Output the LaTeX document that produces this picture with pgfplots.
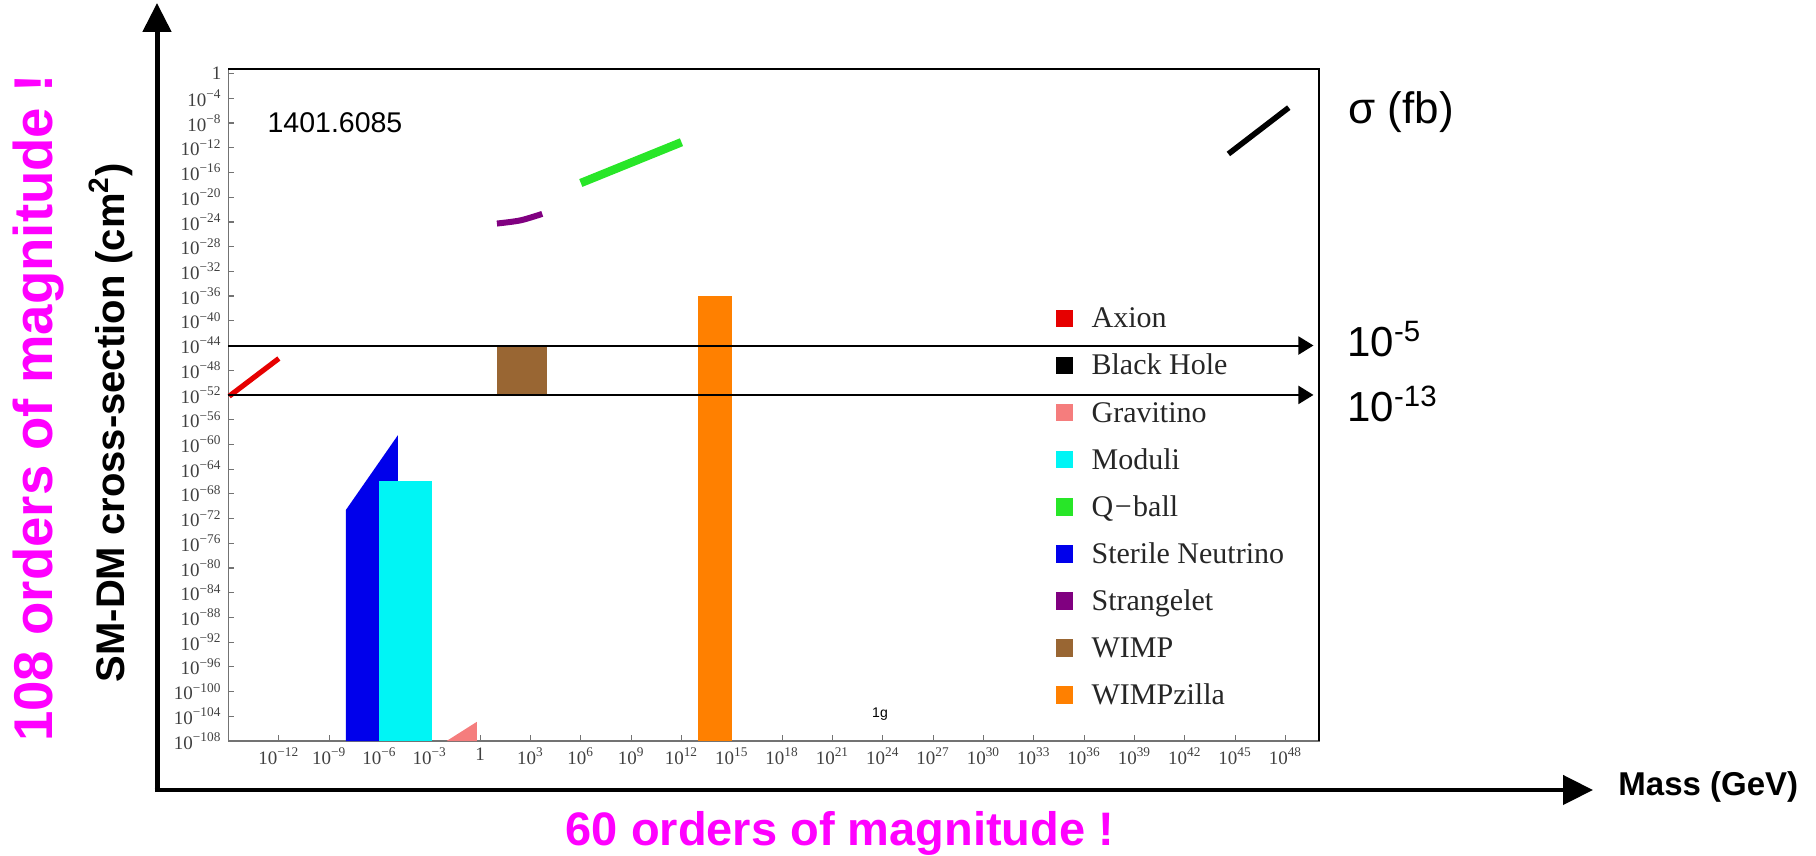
\documentclass[border=0pt]{standalone}
\usepackage{pgfplots}
\pgfplotsset{compat=1.18}
\usepackage{fontspec}
\setmainfont{Liberation Serif}
\newfontfamily\arial{Liberation Sans}
\usetikzlibrary{arrows.meta}
\definecolor{cAxion}{RGB}{230,0,0}
\definecolor{cGrav}{RGB}{245,125,125}
\definecolor{cModuli}{RGB}{0,245,245}
\definecolor{cQball}{RGB}{40,230,40}
\definecolor{cSterile}{RGB}{0,0,235}
\definecolor{cStrange}{RGB}{128,0,128}
\definecolor{cWIMP}{RGB}{153,102,51}
\definecolor{cWzilla}{RGB}{255,128,0}
\definecolor{cMag}{RGB}{255,0,255}
\newcommand{\tp}[1]{10\textsuperscript{#1}}
\begin{document}
\begin{tikzpicture}
\useasboundingbox (0,0) rectangle (908pt,428pt);
\begin{axis}[
  at={(114.25pt,57.5pt)}, anchor=south west,
  scale only axis, width=545.25pt, height=335.85pt,
  xmode=log, ymode=log,
  xmin=1e-15, xmax=1e50, ymin=1e-108, ymax=5.01,
  clip=false,
  axis line style={draw=black!55, line width=0.8pt},
  tick align=inside, tick pos=left, major tick length=3pt,
  tick style={draw=black!55, line width=0.6pt},
  xminorticks=false, yminorticks=false,
  ticklabel style={font=\fontsize{9.5}{10}\selectfont, text=black!75},
  xtick={1e-12,1e-9,1e-6,1e-3,1,1e3,1e6,1e9,1e12,1e15,1e18,1e21,1e24,1e27,1e30,1e33,1e36,1e39,1e42,1e45,1e48},
  xticklabels={{\tp{−12}},{\tp{−9}},{\tp{−6}},{\tp{−3}},1,{\tp{3}},{\tp{6}},{\tp{9}},{\tp{12}},{\tp{15}},{\tp{18}},{\tp{21}},{\tp{24}},{\tp{27}},{\tp{30}},{\tp{33}},{\tp{36}},{\tp{39}},{\tp{42}},{\tp{45}},{\tp{48}}},
  ytick={1,1e-4,1e-8,1e-12,1e-16,1e-20,1e-24,1e-28,1e-32,1e-36,1e-40,1e-44,1e-48,1e-52,1e-56,1e-60,1e-64,1e-68,1e-72,1e-76,1e-80,1e-84,1e-88,1e-92,1e-96,1e-100,1e-104,1e-108},
  yticklabels={1,{\tp{−4}},{\tp{−8}},{\tp{−12}},{\tp{−16}},{\tp{−20}},{\tp{−24}},{\tp{−28}},{\tp{−32}},{\tp{−36}},{\tp{−40}},{\tp{−44}},{\tp{−48}},{\tp{−52}},{\tp{−56}},{\tp{−60}},{\tp{−64}},{\tp{−68}},{\tp{−72}},{\tp{−76}},{\tp{−80}},{\tp{−84}},{\tp{−88}},{\tp{−92}},{\tp{−96}},{\tp{−100}},{\tp{−104}},{\tp{−108}}},
  legend image code/.code={\fill[draw=none] (0pt,-3.4pt) rectangle (8.8pt,5.4pt); \path[draw=none,fill=none] (0pt,0pt) -- (18pt,0pt);},
  legend cell align=left,
  legend style={at={(0.7585,0.6479)}, anchor=north west, draw=none, fill=none,
    inner sep=0pt, outer sep=0pt, row sep=9.05pt, /tikz/column sep=0pt,
    font=\fontsize{15}{18}\selectfont, text=black!85,
    nodes={inner sep=0pt, text height=11pt, text depth=3.5pt}},
]
% Sterile neutrino (visible part)
\addplot[forget plot, fill=cSterile, draw=none] coordinates {(1e-8,1e-108) (1e-8,2.51e-71) (1.26e-5,3.16e-59) (1.26e-5,1e-66) (1e-6,1e-66) (1e-6,1e-108)} -- cycle;
% Moduli
\addplot[forget plot, fill=cModuli, draw=none] coordinates {(1e-6,1e-108) (1e-6,1e-66) (1.26e-3,1e-66) (1.26e-3,1e-108)} -- cycle;
% Gravitino
\addplot[forget plot, fill=cGrav, draw=none] coordinates {(1e-2,1e-108) (0.631,1.26e-105) (0.631,1e-108)} -- cycle;
% WIMP
\addplot[forget plot, fill=cWIMP, draw=none] coordinates {(1e1,1e-52) (1e1,1e-44) (1e4,1e-44) (1e4,1e-52)} -- cycle;
% WIMPzilla
\addplot[forget plot, fill=cWzilla, draw=none] coordinates {(1e13,1e-108) (1e13,1e-36) (1e15,1e-36) (1e15,1e-108)} -- cycle;
% Axion
\addplot[forget plot, draw=cAxion, line width=2.6pt] coordinates {(1.1e-15,6.31e-53) (1e-12,7.94e-47)};
% Strangelet
\addplot[forget plot, draw=cStrange, line width=3pt, smooth] coordinates {(1e1,5.5e-25) (251,1.78e-24) (5012,2.0e-23)};
% Q-ball
\addplot[forget plot, draw=cQball, line width=4.2pt] coordinates {(1e6,2.0e-18) (1e12,7.94e-12)};
% Black hole
\addplot[forget plot, draw=black, line width=2.8pt] coordinates {(3.98e44,1e-13) (1.58e48,3.16e-6)};
% legend
\addlegendimage{fill=cAxion}\addlegendentry{Axion}
\addlegendimage{fill=black}\addlegendentry{Black Hole}
\addlegendimage{fill=cGrav}\addlegendentry{Gravitino}
\addlegendimage{fill=cModuli}\addlegendentry{Moduli}
\addlegendimage{fill=cQball}\addlegendentry{Q{\kern0.05em}−{\kern0.05em}ball}
\addlegendimage{fill=cSterile}\addlegendentry{Sterile Neutrino}
\addlegendimage{fill=cStrange}\addlegendentry{Strangelet}
\addlegendimage{fill=cWIMP}\addlegendentry{WIMP}
\addlegendimage{fill=cWzilla}\addlegendentry{WIMPzilla}
% box top/right edges
\draw[black, line width=1.1pt] (rel axis cs:0,1) -- (rel axis cs:1,1) -- (rel axis cs:1,0);
% flux arrows
\draw[line width=1pt, -{Triangle[width=9pt,length=7.5pt]}] (axis cs:1e-15,1e-44) -- (axis cs:4.68e49,1e-44);
\draw[line width=1pt, -{Triangle[width=9pt,length=7.5pt]}] (axis cs:1e-15,1e-52) -- (axis cs:4.68e49,1e-52);
\end{axis}
% outer big axes
\draw[line width=2.5pt, -{Triangle[width=14pt,length=14.5pt]}] (78.5pt,31.9pt) -- (78.5pt,426.5pt);
\draw[line width=2.25pt, -{Triangle[width=14.5pt,length=15pt]}] (77.25pt,33pt) -- (796.5pt,33pt);
% texts
\node[font=\arial\fontsize{14.25}{16}\selectfont] at (167.5pt,366.5pt) {1401.6085};
\node[font=\arial\fontsize{7}{8}\selectfont] at (440pt,70.7pt) {1g};
\node[font=\arial\fontsize{22}{24}\selectfont, anchor=west, inner sep=0pt] at (674pt,372pt) {σ (fb)};
\node[font=\arial\fontsize{21}{24}\selectfont, anchor=base west, inner sep=0pt] at (673.5pt,249.5pt) {10\textsuperscript{-5}};
\node[font=\arial\fontsize{21}{24}\selectfont, anchor=base west, inner sep=0pt] at (673.5pt,217pt) {10\textsuperscript{-13}};
\node[font=\arial\bfseries\fontsize{16.5}{20}\selectfont, anchor=west, inner sep=0pt] at (809pt,34.5pt) {Mass (GeV)};
\node[font=\arial\bfseries\fontsize{23.5}{28}\selectfont, text=cMag, anchor=base, inner sep=0pt] at (420pt,5pt) {60 orders of magnitude !};
\node[font=\arial\bfseries\fontsize{27.3}{32}\selectfont, text=cMag, anchor=base, inner sep=0pt, rotate=90] at (26pt,224pt) {108 orders of magnitude !};
\node[font=\arial\bfseries\fontsize{20}{22}\selectfont, anchor=base, inner sep=0pt, rotate=90] at (62pt,216.6pt) {SM-DM cross-section (cm\textsuperscript{2})};
\end{tikzpicture}
\end{document}
